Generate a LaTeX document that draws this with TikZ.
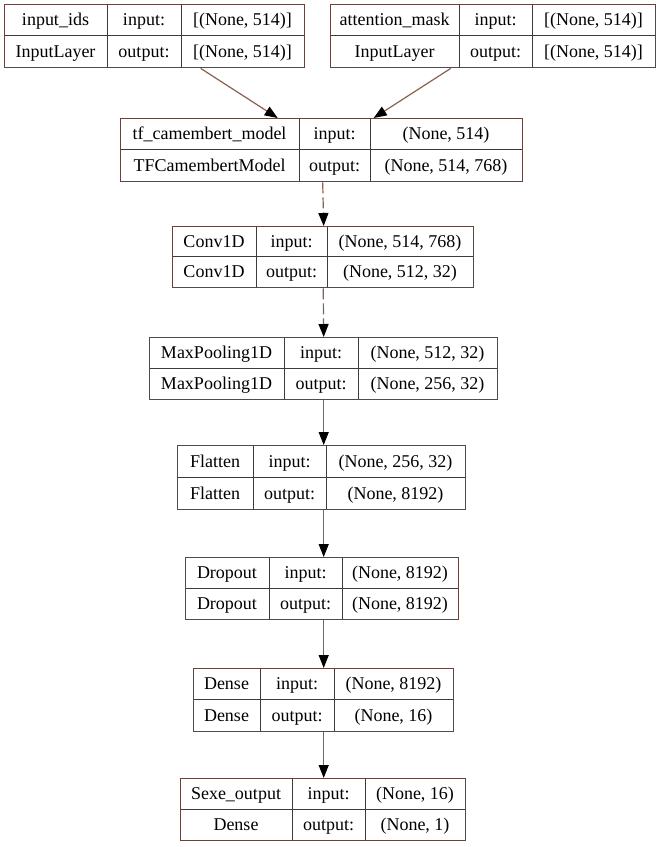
\documentclass[tikz,border=0pt]{standalone}
\usepackage{fontspec}
\setmainfont{Liberation Serif}
\usetikzlibrary{arrows.meta}
\definecolor{bordercol}{RGB}{95,70,62}
\definecolor{innercol}{RGB}{60,60,60}
\definecolor{linkcol}{RGB}{140,95,80}
\tikzset{
  boxframe/.style={draw=bordercol, line width=1.4pt, inner sep=0pt, anchor=north west},
  innerline/.style={draw=innercol, line width=0.9pt},
  cell/.style={inner sep=0pt, text height=14pt, text depth=2pt, font=\fontsize{18pt}{20pt}\selectfont},
  link/.style={draw=linkcol, line width=1.2pt, -{Triangle[length=13pt,width=10pt,color=black,fill=black]}},
  dlink/.style={link, dash pattern=on 11pt off 4pt},
}
\begin{document}
\begin{tikzpicture}[x=1pt,y=-1pt]
\useasboundingbox[fill=white] (0,0) rectangle (663,847);
\foreach \n/\l/\t/\ca/\cb/\r/\b/\na/\nb/\sa/\sb in {
  b1/4/4/107/181/304/67/{input\_ids}/{InputLayer}/{[(None, 514)]}/{[(None, 514)]},
  b2/330/4/459/532/655/67/{attention\_mask}/{InputLayer}/{[(None, 514)]}/{[(None, 514)]},
  b3/120/118/299/370/522/181/{tf\_camembert\_model}/{TFCamembertModel}/{(None, 514)}/{(None, 514, 768)},
  b4/172/226/256/327/473/287/{Conv1D}/{Conv1D}/{(None, 514, 768)}/{(None, 512, 32)},
  b5/149/337/284/358/497/399/{MaxPooling1D}/{MaxPooling1D}/{(None, 512, 32)}/{(None, 256, 32)},
  b6/177/445/253/326/465/509/{Flatten}/{Flatten}/{(None, 256, 32)}/{(None, 8192)},
  b7/185/557/269/342/458/619/{Dropout}/{Dropout}/{(None, 8192)}/{(None, 8192)},
  b8/193/668/260/334/453/731/{Dense}/{Dense}/{(None, 8192)}/{(None, 16)},
  b9/180/778/292/365/465/840/{Sexe\_output}/{Dense}/{(None, 16)}/{(None, 1)}%
}{
  \pgfmathsetmacro\m{(\t+\b)/2}
  \pgfmathsetmacro\ra{(\t+\m)/2}
  \pgfmathsetmacro\rb{(\m+\b)/2}
  \draw[innerline] (\ca,\t) -- (\ca,\b) (\cb,\t) -- (\cb,\b) (\l,\m) -- (\r,\m);
  \node[boxframe, minimum width={(\r-\l)*1pt}, minimum height={(\b-\t)*1pt}] (\n) at (\l,\t) {};
  \node[cell] (\n-na) at ({(\l+\ca)/2},\ra) {\na};
  \node[cell] (\n-nb) at ({(\l+\ca)/2},\rb) {\nb};
  \node[cell] (\n-ia) at ({(\ca+\cb)/2},\ra) {input:};
  \node[cell] (\n-ib) at ({(\ca+\cb)/2},\rb) {output:};
  \node[cell] (\n-sa) at ({(\cb+\r)/2},\ra) {\sa};
  \node[cell] (\n-sb) at ({(\cb+\r)/2},\rb) {\sb};
}
\draw[link] ([xshift=46pt]b1.south) -- ([xshift=-44pt]b3.north);
\draw[link] ([xshift=-42.5pt]b2.south) -- ([xshift=52pt]b3.north);
\draw[dlink] ([xshift=1pt]b3.south) -- ([xshift=0.5pt]b4.north);
\draw[dlink] (b4.south) -- (b5.north);
\draw[link] ([xshift=0pt]b5.south) -- ([xshift=2pt]b6.north);
\draw[link] ([xshift=2pt]b6.south) -- ([xshift=1.5pt]b7.north);
\draw[link] ([xshift=1.5pt]b7.south) -- ([xshift=0pt]b8.north);
\draw[link] (b8.south) -- ([xshift=0.5pt]b9.north);
\end{tikzpicture}
\end{document}
